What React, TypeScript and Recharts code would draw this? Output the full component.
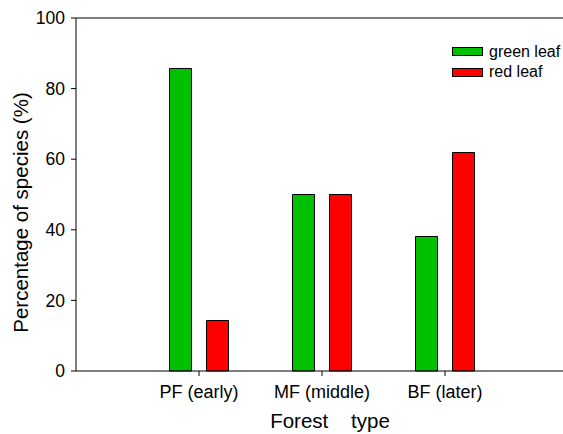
import React from 'react';
import { BarChart, Bar, XAxis, YAxis, ReferenceLine, Legend, Label } from 'recharts';

const categories = ['PF (early)', 'MF (middle)', 'BF (later)'];
const greenLeaf = [85.7, 50, 38.1];
const redLeaf = [14.3, 50, 61.9];
const yTicks = [0, 20, 40, 60, 80, 100];
const seriesNames = ['green leaf', 'red leaf'];

const data = categories.map((c, i) => ({ name: c, green: greenLeaf[i], red: redLeaf[i] }));

const FONT = '"Liberation Sans", Arial, sans-serif';

function LegendContent(props: any) {
  const { payload } = props;
  return (
    <div style={{ fontFamily: FONT }}>
      {(payload || []).map((p: any) => (
        <div key={p.value} style={{ display: 'flex', alignItems: 'center', height: 20.5 }}>
          <div
            style={{
              width: 29,
              height: 7,
              background: p.color,
              border: '1px solid #000',
              marginRight: 6,
            }}
          />
          <span style={{ fontSize: 16, color: '#000', lineHeight: '20px' }}>{p.value}</span>
        </div>
      ))}
    </div>
  );
}

function XLabel(props: any) {
  const vb = props.viewBox || {};
  const cx = vb.x + vb.width / 2 + 10.5;
  return (
    <text x={cx} y={vb.y + 57} textAnchor="middle" fontSize={20.5} fontFamily={FONT} fill="#000">
      {'Forest\u00A0\u00A0\u00A0 type'}
    </text>
  );
}

function YLabel(props: any) {
  const vb = props.viewBox || {};
  const cy = vb.y + vb.height / 2 + 18;
  const x = 28;
  return (
    <text
      x={x}
      y={cy}
      transform={`rotate(-90, ${x}, ${cy})`}
      textAnchor="middle"
      fontSize={20.5}
      fontFamily={FONT}
      fill="#000"
    >
      Percentage of species (%)
    </text>
  );
}

export default function App() {
  return (
    <div style={{ position: 'absolute', left: 0, top: 0, background: '#fff' }}>
      <BarChart
        width={563}
        height={434}
        data={data}
        margin={{ top: 18, right: 0, bottom: 0, left: 0 }}
        barGap={15}
        barSize={22}
      >
        <XAxis
          dataKey="name"
          height={63}
          padding={{ left: 61.5, right: 56.5 }}
          axisLine={{ stroke: '#000' }}
          tickLine={{ stroke: '#000' }}
          tickSize={5}
          tickMargin={9}
          interval={0}
          tick={{ fill: '#000', fontSize: 18, fontFamily: FONT }}
        >
          <Label content={XLabel} />
        </XAxis>
        <YAxis
          width={76}
          domain={[0, 100]}
          ticks={yTicks}
          type="number"
          axisLine={{ stroke: '#000' }}
          tickLine={{ stroke: '#000' }}
          tickSize={5}
          tickMargin={6}
          tick={{ fill: '#000', fontSize: 17.5, fontFamily: FONT }}
        >
          <Label content={YLabel} />
        </YAxis>
        <ReferenceLine y={100} stroke="#000" />
        <Legend
          layout="vertical"
          align="center"
          verticalAlign="middle"
          content={LegendContent}
          wrapperStyle={{ position: 'absolute', left: 452, top: 41.5, width: 'auto', height: 'auto' }}
        />
        <Bar
          dataKey="green"
          name={seriesNames[0]}
          fill="#00C000"
          stroke="#000"
          strokeWidth={1}
          isAnimationActive={false}
        />
        <Bar
          dataKey="red"
          name={seriesNames[1]}
          fill="#FF0000"
          stroke="#000"
          strokeWidth={1}
          isAnimationActive={false}
        />
      </BarChart>
    </div>
  );
}
